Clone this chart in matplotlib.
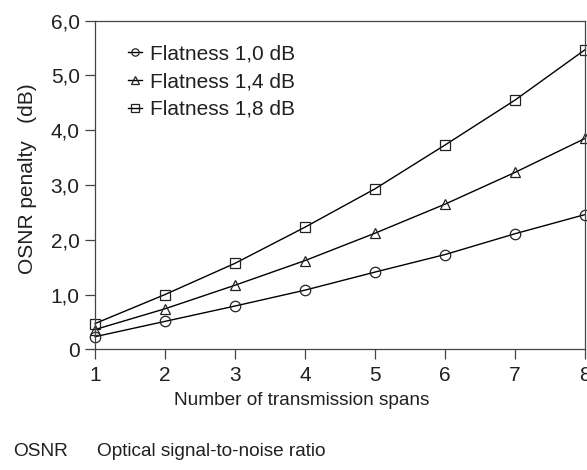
import matplotlib
matplotlib.use("Agg")
import matplotlib.pyplot as plt

spans = [1, 2, 3, 4, 5, 6, 7, 8]
flat_10 = [0.23, 0.51, 0.79, 1.08, 1.41, 1.73, 2.11, 2.46]
flat_14 = [0.36, 0.74, 1.17, 1.62, 2.12, 2.65, 3.23, 3.85]
flat_18 = [0.47, 1.00, 1.57, 2.23, 2.93, 3.73, 4.55, 5.47]
labels = ["Flatness 1,0 dB", "Flatness 1,4 dB", "Flatness 1,8 dB"]
yticks = [0, 1, 2, 3, 4, 5, 6]
ytick_labels = ["0", "1,0", "2,0", "3,0", "4,0", "5,0", "6,0"]

plt.rcParams["font.family"] = ["Liberation Sans", "DejaVu Sans"]
text_c = "#231f20"

fig = plt.figure(figsize=(5.87, 4.70), dpi=100)
ax = fig.add_axes([95 / 587, 120.7 / 470, 490 / 587, 328.6 / 470])

for y, m, lab in zip([flat_10, flat_14, flat_18], ["o", "^", "s"], labels):
    ax.plot(spans, y, color="black", lw=1.0, marker=m, ms=7.5, mfc="none",
            mec="#222222", mew=0.9, label=lab, clip_on=False)

ax.set_xlim(1, 8)
ax.set_ylim(0, 6)
ax.set_xticks(spans)
ax.set_yticks(yticks)
ax.set_yticklabels(ytick_labels)
ax.tick_params(direction="out", length=7, width=0.9, colors="#444444",
               labelcolor=text_c, labelsize=15, pad=4)
ax.tick_params(axis="x", pad=5)
for s in ax.spines.values():
    s.set_color("#444444")
    s.set_linewidth(0.9)

ax.set_xlabel("Number of transmission spans", fontsize=13.7, color=text_c)
ax.xaxis.set_label_coords(0.421, -0.13)
ax.set_ylabel("OSNR penalty   (dB)", fontsize=15, color=text_c)
ax.yaxis.set_label_coords(-0.118, 0.52)

leg = ax.legend(loc="upper left", bbox_to_anchor=(0.067, 0.928), frameon=False,
                fontsize=15, handlelength=0.7, handletextpad=0.35,
                labelspacing=0.42, borderaxespad=0, borderpad=0, markerscale=0.7)
for t in leg.get_texts():
    t.set_color(text_c)

fig.text(13 / 587, 1 - 452 / 470, "OSNR", fontsize=13.7, color=text_c, va="center")
fig.text(97 / 587, 1 - 452 / 470, "Optical signal-to-noise ratio", fontsize=13.7,
         color=text_c, va="center")

fig.savefig("out.png", dpi=100)
plt.close(fig)
